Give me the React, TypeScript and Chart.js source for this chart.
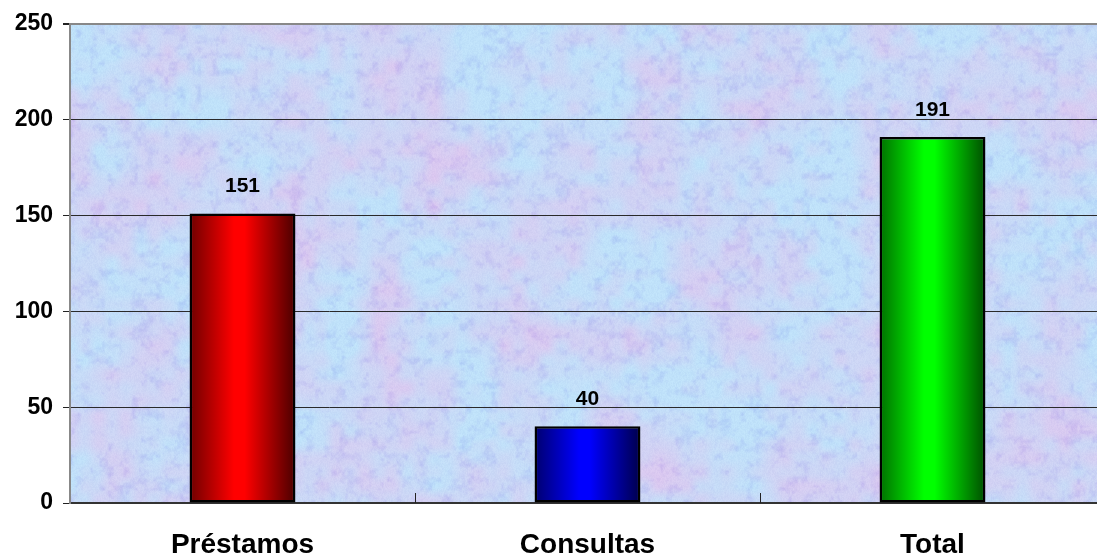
import { useEffect, useRef } from "react";
import { Chart, registerables } from "chart.js";

Chart.register(...registerables);

const categories = ["Préstamos", "Consultas", "Total"];
const values = [151, 40, 191];
const yTickValues = [0, 50, 100, 150, 200, 250];

// dark edge, bright centre, dark edge
const barShades = [
  ["#6e0000", "#ff0000", "#4a0000"],
  ["#00006e", "#0000ff", "#00004a"],
  ["#007000", "#00ff00", "#004e00"],
];

const FONT = "Arial, 'Liberation Sans', Helvetica, sans-serif";
const BAR_FRACTION = 0.307;

function hash(x: number, y: number, seed: number) {
  let h = Math.imul(x, 374761393) ^ Math.imul(y, 668265263) ^ Math.imul(seed, 1442695041);
  h = Math.imul(h ^ (h >>> 13), 1274126177);
  h ^= h >>> 16;
  return (h >>> 0) / 4294967296;
}

function valueNoise(x: number, y: number, seed: number) {
  const xi = Math.floor(x);
  const yi = Math.floor(y);
  const xf = x - xi;
  const yf = y - yi;
  const u = xf * xf * (3 - 2 * xf);
  const v = yf * yf * (3 - 2 * yf);
  const a = hash(xi, yi, seed);
  const b = hash(xi + 1, yi, seed);
  const c = hash(xi, yi + 1, seed);
  const d = hash(xi + 1, yi + 1, seed);
  return (a + (b - a) * u) * (1 - v) + (c + (d - c) * u) * v;
}

// marbled blue / lilac / pink paper texture for the plot area
function makeTexture(w: number, h: number) {
  const c = document.createElement("canvas");
  c.width = w;
  c.height = h;
  const g = c.getContext("2d")!;
  const img = g.createImageData(w, h);
  for (let y = 0; y < h; y++) {
    for (let x = 0; x < w; x++) {
      const hue = valueNoise(x / 45, y / 45, 1) * 0.65 + valueNoise(x / 14, y / 14, 2) * 0.35;
      const blot = valueNoise(x / 8, y / 8, 3) * 0.6 + valueNoise(x / 3, y / 3, 4) * 0.4;
      const grain = hash(x, y, 5);
      // cyan-ish to lilac-pink
      const t = Math.max(0, Math.min(1, (hue - 0.25) * 1.4));
      let r = 192 + (220 - 192) * t;
      let gg = 226 + (200 - 226) * t;
      let b = 250 + (240 - 250) * t;
      // darker periwinkle blotches
      const k = Math.max(0, blot - 0.5) * 1.3;
      r -= 28 * k;
      gg -= 36 * k;
      b -= 6 * k;
      const n = (grain - 0.5) * 9;
      const i = (y * w + x) * 4;
      img.data[i] = Math.max(0, Math.min(255, r + n));
      img.data[i + 1] = Math.max(0, Math.min(255, gg + n));
      img.data[i + 2] = Math.max(0, Math.min(255, b + n * 0.5));
      img.data[i + 3] = 255;
    }
  }
  g.putImageData(img, 0, 0);
  return c;
}

let textureCache: HTMLCanvasElement | null = null;

const backgroundPlugin = {
  id: "plotTexture",
  beforeDraw(chart: any) {
    const { ctx, chartArea: a } = chart;
    const w = Math.round(a.right - a.left);
    const h = Math.round(a.bottom - a.top);
    if (!textureCache || textureCache.width !== w || textureCache.height !== h) {
      textureCache = makeTexture(w, h);
    }
    ctx.save();
    ctx.drawImage(textureCache, a.left, a.top);
    ctx.restore();
  },
};

const overlayPlugin = {
  id: "overlay",
  afterDatasetsDraw(chart: any) {
    const { ctx, chartArea: a } = chart;
    const xs = chart.scales.x;
    ctx.save();
    // short separators between categories, rising from the axis
    ctx.strokeStyle = "#222";
    ctx.lineWidth = 1;
    for (let i = 0; i < categories.length - 1; i++) {
      const px = Math.round((xs.getPixelForValue(i) + xs.getPixelForValue(i + 1)) / 2) + 0.5;
      ctx.beginPath();
      ctx.moveTo(px, a.bottom);
      ctx.lineTo(px, a.bottom - 10);
      ctx.stroke();
    }
    // value labels above bars
    const meta = chart.getDatasetMeta(0);
    ctx.fillStyle = "#000";
    ctx.font = `bold 21px ${FONT}`;
    ctx.textAlign = "center";
    ctx.textBaseline = "middle";
    meta.data.forEach((el: any, i: number) => {
      ctx.fillText(String(values[i]), el.x, el.y - 27);
    });
    ctx.restore();
  },
};

export default function App() {
  const ref = useRef<HTMLCanvasElement | null>(null);

  useEffect(() => {
    const canvas = ref.current!;
    const chart = new Chart(canvas, {
      type: "bar",
      data: {
        labels: categories,
        datasets: [
          {
            data: values,
            backgroundColor: (ctx: any) => {
              const i = ctx.dataIndex;
              const shades = barShades[i] || barShades[0];
              const ch = ctx.chart;
              const xs = ch.scales?.x;
              if (!xs || !ch.chartArea) return shades[1];
              const cx = xs.getPixelForValue(i);
              const bw = ((ch.chartArea.right - ch.chartArea.left) / categories.length) * BAR_FRACTION;
              const grad = ch.ctx.createLinearGradient(cx - bw / 2, 0, cx + bw / 2, 0);
              grad.addColorStop(0, shades[0]);
              grad.addColorStop(0.42, shades[1]);
              grad.addColorStop(0.52, shades[1]);
              grad.addColorStop(1, shades[2]);
              return grad;
            },
            borderColor: "#000",
            borderWidth: 2.5,
            borderSkipped: false,
            barPercentage: BAR_FRACTION,
            categoryPercentage: 1,
          },
        ],
      },
      options: {
        responsive: false,
        animation: false,
        events: [],
        layout: { padding: { top: 23, right: 1, left: 0, bottom: 0 } },
        plugins: {
          legend: { display: false },
          tooltip: { enabled: false },
          title: { display: false },
        },
        scales: {
          x: {
            offset: true,
            grid: { display: false, drawTicks: false },
            border: { display: true, color: "#333", width: 2 },
            ticks: {
              color: "#000",
              font: { family: FONT, size: 28, weight: "bold" },
              padding: 25,
            },
            afterFit: (s: any) => {
              s.height = 55;
            },
          },
          y: {
            min: 0,
            max: 250,
            afterBuildTicks: (s: any) => {
              s.ticks = yTickValues.map((v) => ({ value: v }));
            },
            grid: {
              color: (c: any) => (c.tick && c.tick.value === 250 ? "#888" : "#2a2a2a"),
              lineWidth: (c: any) => (c.tick && c.tick.value === 250 ? 2 : 1),
              tickColor: "#222",
              tickLength: 7,
            },
            border: { display: true, color: "#888", width: 2 },
            ticks: {
              color: "#000",
              font: { family: FONT, size: 23, weight: "bold" },
              padding: 10,
            },
            afterFit: (s: any) => {
              s.width = 70;
            },
          },
        },
      },
      plugins: [backgroundPlugin, overlayPlugin],
    });
    return () => chart.destroy();
  }, []);

  return (
    <div
      style={{
        position: "fixed",
        left: 0,
        top: 0,
        width: 1097,
        height: 558,
        overflow: "hidden",
        background: "#fff",
      }}
    >
      <canvas ref={ref} width={1106} height={558} style={{ display: "block", width: 1106, height: 558 }} />
    </div>
  );
}
